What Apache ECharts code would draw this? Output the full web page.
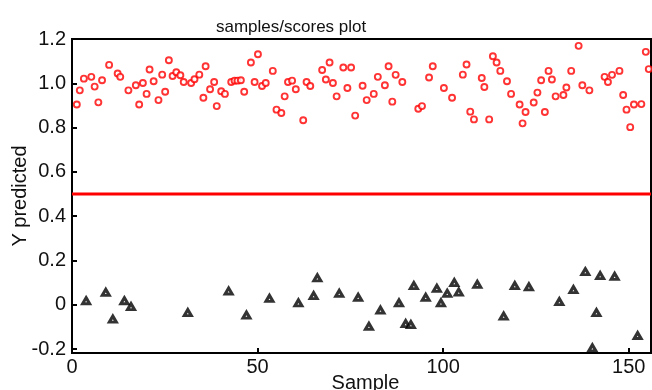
<!DOCTYPE html>
<html><head><meta charset="utf-8">
<script src="https://cdn.jsdelivr.net/npm/echarts@6/dist/echarts.min.js"></script>
<style>html,body{margin:0;padding:0;background:#fff}#c{width:652px;height:390px}</style>
</head><body><div id="c"></div>
<script>
// class 1 samples (red circles)
const redSample = [1.3,2.1,3.2,5.2,6.1,7.1,8.1,10.0,12.3,13.0,15.2,17.2,18.1,19.1,20.1,20.9,22.0,23.3,24.3,25.1,26.1,27.1,28.1,29.2,30.1,32.1,33.0,34.3,35.4,36.0,37.2,38.3,39.0,40.2,41.2,42.9,43.8,44.6,45.5,46.4,48.2,49.2,50.1,51.2,52.2,54.1,55.1,56.4,57.3,58.2,59.3,60.3,62.3,63.2,64.2,67.4,68.4,69.4,70.3,71.3,73.1,74.2,75.2,76.3,78.3,79.4,81.3,82.4,84.3,85.3,86.3,87.2,89.0,93.3,94.3,96.2,97.2,100.2,102.4,105.3,106.3,107.3,108.3,110.4,111.1,112.4,113.4,114.4,115.4,117.2,118.3,120.6,121.4,122.2,124.4,125.4,126.4,127.4,128.4,129.3,130.3,132.4,133.2,134.5,136.5,137.5,139.4,143.5,144.4,145.5,147.5,148.5,149.4,150.4,151.4,153.4,154.6,155.4];
const redY = [0.904,0.968,1.021,1.029,0.985,0.914,1.014,1.083,1.044,1.029,0.968,0.991,0.904,1.001,0.952,1.062,1.009,0.924,1.039,0.962,1.104,1.033,1.050,1.036,1.006,1.001,1.018,1.039,0.935,1.077,0.973,1.006,0.897,0.964,0.952,1.006,1.012,1.012,1.014,0.962,1.094,1.006,1.131,0.988,1.001,1.056,0.881,0.866,0.941,1.006,1.012,0.973,0.833,1.006,0.988,1.060,1.017,1.094,1.001,0.941,1.071,0.979,1.071,0.854,0.989,0.924,0.952,1.029,0.991,1.077,0.917,1.038,1.006,0.885,0.897,1.026,1.077,0.979,0.935,1.039,1.085,0.872,0.837,1.024,0.983,0.837,1.122,1.094,1.056,1.009,0.952,0.904,0.819,0.870,0.913,0.958,1.014,0.870,1.056,1.017,0.941,0.947,0.981,1.056,1.169,0.991,0.968,1.029,1.006,1.038,1.056,0.947,0.881,0.802,0.904,0.906,1.142,1.064];
// class 0 samples (black triangles)
const blackSample = [3.8,9.1,11.0,14.1,15.9,31.2,42.2,47.0,53.2,61.0,65.1,66.1,72.0,77.1,80.0,83.1,88.1,89.9,91.3,92.1,95.3,98.3,99.4,101.1,103.0,104.2,109.2,116.3,119.3,123.1,131.3,135.1,138.3,140.2,141.3,142.3,146.2,152.4];
const blackY = [0.018,0.056,-0.065,0.018,-0.009,-0.036,0.062,-0.047,0.029,0.008,0.041,0.121,0.051,0.033,-0.098,-0.024,0.008,-0.085,-0.090,0.086,0.033,0.074,0.008,0.051,0.100,0.057,0.092,-0.051,0.086,0.081,0.014,0.068,0.149,-0.195,-0.036,0.131,0.128,-0.139];
const thresholdY = 0.5;
const xRange = [0, 156];
const yRange = [-0.218, 1.2];
const yTicks = [-0.2, 0, 0.2, 0.4, 0.6, 0.8, 1.0, 1.2];

const FONT = '"Liberation Sans", Arial, Helvetica, sans-serif';
const chart = echarts.init(document.getElementById('c'), null, {renderer: 'canvas'});
chart.setOption({
  animation: false,
  backgroundColor: '#fff',
  title: {
    text: 'samples/scores plot', left: 211, top: 14,
    textStyle: {fontFamily: FONT, fontSize: 17, fontWeight: 'normal', color: '#111'}
  },
  grid: {left: 72, right: 1, top: 39, bottom: 37, show: true, borderColor: '#000', borderWidth: 2,
    backgroundColor: 'transparent', containLabel: false, outerBoundsMode: 'none'},
  xAxis: {
    type: 'value', min: xRange[0], max: xRange[1], interval: 50,
    name: 'Sample', nameLocation: 'middle', nameGap: 20, nameMoveOverlap: false,
    nameTextStyle: {fontFamily: FONT, fontSize: 20, color: '#111', padding: [0, 0, 0, 8]},
    axisLine: {show: true, onZero: false, lineStyle: {color: '#000', width: 2}},
    axisTick: {show: true, inside: true, length: 5, lineStyle: {color: '#000', width: 2}},
    axisLabel: {fontFamily: FONT, fontSize: 20, color: '#111', margin: 4, showMaxLabel: false},
    splitLine: {show: false}
  },
  yAxis: {
    type: 'value', min: yRange[0], max: yRange[1],
    name: 'Y predicted', nameLocation: 'middle', nameGap: 42, nameMoveOverlap: false,
    nameTextStyle: {fontFamily: FONT, fontSize: 20, color: '#111'},
    axisLine: {show: true, onZero: false, lineStyle: {color: '#000', width: 2}},
    axisTick: {show: true, inside: true, length: 5, lineStyle: {color: '#000', width: 2}, customValues: yTicks},
    axisLabel: {fontFamily: FONT, fontSize: 20, color: '#111', margin: 6, customValues: yTicks,
      formatter: v => Math.abs(v) < 1e-9 ? '0' : v.toFixed(1)},
    splitLine: {show: false}
  },
  series: [
    {
      type: 'line', data: xRange.map(x => [x, thresholdY]), symbol: 'none',
      lineStyle: {color: '#ff0000', width: 3}, z: 1
    },
    {
      type: 'scatter', data: redSample.map((x, i) => [x, redY[i]]),
      symbol: 'circle', symbolSize: 6,
      itemStyle: {color: '#fff', borderColor: '#ff0000', borderWidth: 1.9}, z: 3
    },
    {
      type: 'scatter', data: blackSample.map((x, i) => [x, blackY[i]]),
      symbol: 'triangle', symbolSize: [7, 6],
      itemStyle: {color: '#fff', borderColor: '#000', borderWidth: 3}, z: 3
    }
  ]
});
</script>
</body></html>
